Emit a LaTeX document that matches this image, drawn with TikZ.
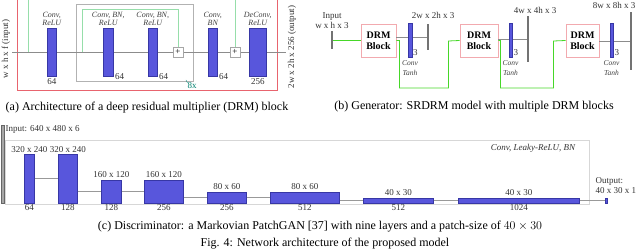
\documentclass[tikz,border=0pt]{standalone}
\usepackage{fontspec}
\setmainfont{Liberation Serif}
\usetikzlibrary{positioning}
\definecolor{layerblue}{RGB}{88,86,220}
\definecolor{layeredge}{RGB}{55,55,165}
\definecolor{boxred}{RGB}{232,100,110}
\definecolor{drmpink}{RGB}{242,170,175}
\definecolor{skipgreen}{RGB}{150,222,170}
\definecolor{gengreen}{RGB}{70,215,40}
\definecolor{framegray}{RGB}{215,215,215}
\definecolor{tealtxt}{RGB}{0,128,110}
\newcommand\lblfont{\fontsize{9}{10}\selectfont}
\newcommand\opfont{\fontsize{8}{8.5}\selectfont\itshape}
\newcommand\capfont{\fontsize{12}{13}\selectfont}
\newcommand\drmfont{\fontsize{10}{11}\selectfont\bfseries}
\begin{document}
\begin{tikzpicture}[x=1pt, y=-1pt,
    layer/.style={draw=layeredge, fill=layerblue, line width=0.5pt, inner sep=0pt},
    opname/.style={font=\opfont, align=center, inner sep=1pt, text=black!75},
    lbl/.style={font=\lblfont, inner sep=1.5pt, text=black!80},
    captext/.style={font=\capfont},
    plusbox/.style={draw=black!35, fill=white, minimum size=10, inner sep=0pt, font=\lblfont},
    drm/.style={draw=drmpink, line width=0.8pt, minimum width=35, minimum height=33, align=center, font=\drmfont, inner sep=0pt},
    convbar/.style={layer, minimum width=3.5, minimum height=34},
    tickbar/.style={fill=black!55, minimum width=1.2, inner sep=0pt},
    mainline/.style={draw=black!45, line width=0.7pt},
    skipa/.style={draw=skipgreen, line width=0.7pt},
    skipb/.style={draw=gengreen, line width=0.8pt},
    conn/.style={draw=black!40, line width=1.3pt}]
    \useasboundingbox (0,0) rectangle (640,251);
    % (a) DRM block
    \draw[boxred, line width=0.8pt] (17,-5) rectangle (277,90);
    \draw[black!30, line width=0.8pt] (76,4) rectangle (193,81);
    \coordinate (ain) at (12,52);
    \coordinate (aout) at (286,52);
    \coordinate (s0) at (28,52);
    \coordinate (s1) at (82,52);
    \draw[mainline] (ain) -- (aout);
    \node[layer, anchor=north west, minimum width=9, minimum height=48] (c1) at (47,28) {};
    \node[layer, anchor=north west, minimum width=10, minimum height=48] (c2) at (103,28) {};
    \node[layer, anchor=north west, minimum width=9, minimum height=48] (c3) at (148,28) {};
    \node[layer, anchor=north west, minimum width=9, minimum height=48] (c4) at (208,28) {};
    \node[layer, anchor=north west, minimum width=17, minimum height=48] (dc) at (249,28) {};
    \node[plusbox] (p1) at (178,52) {+};
    \node[plusbox] (p2) at (235,52) {+};
    \draw[skipa] (s1) |- (178,9) -- (p1.north);
    \draw[skipa] (s0) -- ++(0,-57) -| (p2.north);
    \node[opname, above=1pt of c1] {Conv,\\ReLU};
    \node[opname, above=1pt of c2] {Conv, BN,\\ReLU};
    \node[opname, above=1pt of c3] {Conv, BN,\\ReLU};
    \node[opname, above=1pt of c4] {Conv,\\BN};
    \node[opname, above=1pt of dc] {DeConv,\\ReLU};
    \node[lbl, below=0pt of c1] {64};
    \node[lbl, anchor=west] at (c2.south east) {64};
    \node[lbl, anchor=west] at (c3.south east) {64};
    \node[lbl, anchor=west] at (c4.south east) {64};
    \node[lbl, below=0pt of dc] {256};
    \draw[tealtxt] (186,80) -- (187.5,83);
    \node[lbl, text=tealtxt] at (192,86) {8x};
    \node[lbl, rotate=90, anchor=west] at (6,80) {w x h x f (input)};
    \node[lbl, rotate=90, anchor=west] at (292,90) {2w x 2h x 256 (output)};
    \node[captext] at (147,108) {(a) Architecture of a deep residual multiplier (DRM) block};
    % (b) generator
    \node[tickbar, minimum height=18] (t0) at (332,40) {};
    \node[tickbar, minimum height=26] (k1) at (428,37) {};
    \node[tickbar, minimum height=46] (k2) at (528,39) {};
    \node[tickbar, minimum height=58] (k3) at (631,41) {};
    \node[drm] (g1) at (378.5,40.5) {DRM\\Block};
    \node[drm, minimum width=38] (g2) at (479,40.5) {DRM\\Block};
    \node[drm, minimum width=33] (g3) at (582.5,40.5) {DRM\\Block};
    \draw[skipb] (t0) -- (g1.west |- t0);
    \draw[mainline] (g1.east |- k1) -- (k1);
    \draw[mainline] (g2.east |- k2) -- (k2);
    \draw[mainline] (g3.east |- k3) -- (k3);
    \draw[skipb] (g1.east) -- ++(3,0) -- ++(0,47.5) -- ++(49,0) -- ++(0,-47) -- (g2.west);
    \draw[skipb] (g2.east) -- ++(2,0) -- ++(0,47.5) -- ++(53,0) -- ++(0,-47) -- (g3.west);
    \node[convbar] (b1) at (410,40) {};
    \node[convbar] (b2) at (510.5,40) {};
    \node[convbar] (b3) at (611.5,40) {};
    \foreach \b in {1,2,3} {
        \node[lbl, anchor=south west, inner sep=1pt] at (b\b.south east) {3};
        \node[opname, below=2pt of b\b, font=\fontsize{7.5}{10}\selectfont\itshape] {Conv\\Tanh};
    }
    \node[lbl, align=center, above=1pt of t0] {Input\\w x h x 3};
    \node[lbl] at (433,15.5) {2w x 2h x 3};
    \node[lbl] at (535,10) {4w x 4h x 3};
    \node[lbl] at (614,5) {8w x 8h x 3};
    \node[captext] at (474,107) {(b) Generator: SRDRM model with multiple DRM blocks};
    % (c) discriminator
    \draw[framegray, line width=0.8pt] (5,140) rectangle (589,204);
    \node[draw=black!60, fill=black!35, minimum width=3, minimum height=78, inner sep=0pt, anchor=north west] (din) at (0.5,125) {};
    \foreach \i/\x/\w/\h/\sz/\ch in {1/24/10/48/320 x 240/64, 2/58/19/48/320 x 240/128,
        3/101/20/23/160 x 120/128, 4/144/39/23/160 x 120/256, 5/207/39/11/80 x 60/256,
        6/270/69/11/80 x 60/512, 7/363/70/5/40 x 30/512, 8/458/121/5/40 x 30/1024} {
        \node[layer, anchor=south west, minimum width=\w, minimum height=\h] (d\i) at (\x,203) {};
        \node[lbl, above=0pt of d\i] {\sz};
        \node[lbl, below=0pt of d\i] {\ch};
    }
    \node[layer, anchor=south west, minimum width=2, minimum height=5] (dout) at (605,203) {};
    \foreach \a/\b in {1/2,2/3,3/4,4/5,5/6,6/7,7/8} \draw[conn] (d\a.east |- d\b.center) -- (d\b.west);
    \draw[conn] (d8) -- (dout);
    \node[lbl, anchor=west] at (4,129) {Input: 640 x 480 x 6};
    \node[lbl, align=left, anchor=west] at (594,186) {Output:\\40 x 30 x 1};
    \node[lbl, font=\lblfont\itshape] at (533,148) {Conv, Leaky-ReLU, BN};
    \node[captext] at (320,227) {(c) Discriminator: a Markovian PatchGAN [37] with nine layers and a patch-size of $40\times30$};
    \node[captext] at (325,243.5) {Fig. 4: Network architecture of the proposed model};
\end{tikzpicture}
\end{document}
